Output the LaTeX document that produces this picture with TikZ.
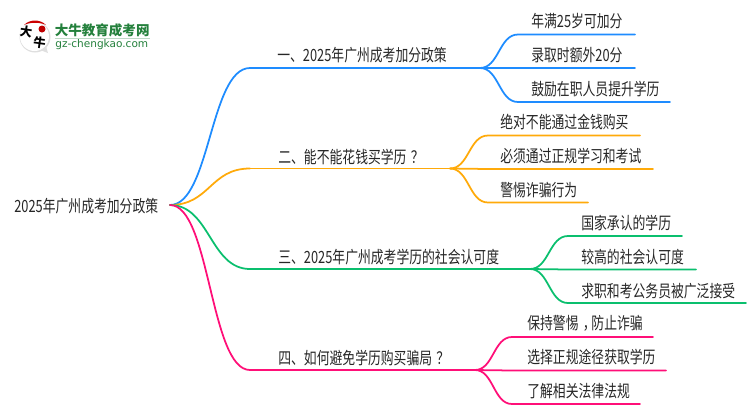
\documentclass[tikz,border=0pt]{standalone}
\usepackage{fontspec}
\usepackage{xcolor}
\setmainfont{Noto Sans CJK SC}[FakeStretch=0.76]
\newfontfamily\logolatin{DejaVu Sans}
\newfontfamily\logocjk{Noto Sans CJK SC}
\definecolor{bluebranch}{HTML}{1E8CFF}
\definecolor{orangebranch}{HTML}{FFAA0A}
\definecolor{greenbranch}{HTML}{0ABF6E}
\definecolor{pinkbranch}{HTML}{FF0F78}
\definecolor{logogreen}{HTML}{24803C}
\newcommand{\midpunct}[1]{\kern2.4pt#1\kern-2.4pt}
\usetikzlibrary{positioning,calc}
\tikzset{
    topic/.style={anchor=west, inner sep=0pt, text=black!85, font=\fontsize{9.6pt}{10pt}\selectfont},
    branch/.style={line width=1pt, line cap=round},
    curve/.style={branch, to path={.. controls ($(\tikztostart)!0.5!(\tikztotarget|-\tikztostart)$) and ($(\tikztotarget)!0.5!(\tikztostart|-\tikztotarget)$) .. (\tikztotarget)}}
}
\begin{document}
\begin{tikzpicture}[x=0.02cm, y=-0.02cm]
    \useasboundingbox (0,0) rectangle (750,410);

    % Logo
    \fill[gray!25] (35,37) circle (15.5);
    \fill[gray!25] (40,50) -- (48,53) -- (46,46) -- cycle;
    \fill[white] (34.5,36.5) circle (14.5);
    \fill[red!80!black] (24,25) .. controls (30,19) and (40,19) .. (46,25) .. controls (40,22) and (30,22) .. (24,25) -- cycle;
    \fill[red!75!black] (42,29) circle (3.5);
    \node[rotate=-8, inner sep=0pt, font=\logocjk\bfseries\fontsize{7pt}{7pt}\selectfont] (logoda) at (26,32) {大};
    \node[rotate=-8, inner sep=0pt, font=\logocjk\bfseries\fontsize{7pt}{7pt}\selectfont] (logoniu) at (39.5,43) {牛};
    \node[anchor=west, inner sep=0pt, text=logogreen, font=\logocjk\bfseries\fontsize{7.7pt}{8pt}\selectfont] (logotitle) at (54.5,30) {大牛教育成考网};
    \node[anchor=west, inner sep=0pt, text=logogreen, font=\logolatin\fontsize{6pt}{6pt}\selectfont] (logosite) at (55,45) {gz-chengkao.com};
    \draw[logogreen!30, line width=0.4pt] (logotitle.south west) ++(0,1) -- ++(95,0);

    % Texts
    \node[topic] (root) at (14,206) {2025年广州成考加分政策};
    \node[topic] (one) at (277,55) {一、2025年广州成考加分政策};
    \node[topic] (two) at (278,157) {二、能不能花钱买学历\midpunct{？}};
    \node[topic] (three) at (278,257) {三、2025年广州成考学历的社会认可度};
    \node[topic] (four) at (278,358) {四、如何避免学历购买骗局\midpunct{？}};

    \node[topic] (oneA) at (531,21) {年满25岁可加分};
    \node[topic] (oneB) at (531,55) {录取时额外20分};
    \node[topic] (oneC) at (531,89) {鼓励在职人员提升学历};
    \node[topic] (twoA) at (500,122) {绝对不能通过金钱购买};
    \node[topic] (twoB) at (500,156) {必须通过正规学习和考试};
    \node[topic] (twoC) at (500,190) {警惕诈骗行为};
    \node[topic] (threeA) at (581,223) {国家承认的学历};
    \node[topic] (threeB) at (581,257) {较高的社会认可度};
    \node[topic] (threeC) at (581,291) {求职和考公务员被广泛接受};
    \node[topic] (fourA) at (527,323) {保持警惕\midpunct{，}防止诈骗};
    \node[topic] (fourB) at (527,357) {选择正规途径获取学历};
    \node[topic] (fourC) at (527,391) {了解相关法律法规};

    % Connector ends
    \coordinate (start) at (170,205);
    \coordinate (oneL) at (250,68);
    \coordinate (oneR) at (480,68);
    \coordinate (twoL) at (250,168.5);
    \coordinate (twoR) at (450,168.5);
    \coordinate (threeL) at (250,269);
    \coordinate (threeR) at (530,269);
    \coordinate (fourL) at (250,370);
    \coordinate (fourR) at (475,370);

    % Blue
    \draw[curve, bluebranch] (start) to (oneL);
    \draw[branch, bluebranch] (oneL) -- (oneR);
    \draw[curve, bluebranch] (oneR) to (518,34.5) -- (635,34.5);
    \draw[curve, bluebranch] (oneR) to (518,68) -- (635,68);
    \draw[curve, bluebranch] (oneR) to (518,102) -- (670,102);

    % Orange
    \draw[curve, orangebranch] (start) to (twoL);
    \draw[branch, orangebranch] (twoL) -- (twoR);
    \draw[curve, orangebranch] (twoR) to (488,135.5) -- (640,135.5);
    \draw[curve, orangebranch] (twoR) to (488,169) -- (653,169);
    \draw[curve, orangebranch] (twoR) to (488,202.5) -- (588,202.5);

    % Green
    \draw[curve, greenbranch] (start) to (threeL);
    \draw[branch, greenbranch] (threeL) -- (threeR);
    \draw[curve, greenbranch] (threeR) to (568,236) -- (682,236);
    \draw[curve, greenbranch] (threeR) to (568,269.5) -- (696,269.5);
    \draw[curve, greenbranch] (threeR) to (568,303) -- (746,303);

    % Pink
    \draw[curve, pinkbranch] (start) to (fourL);
    \draw[branch, pinkbranch] (fourL) -- (fourR);
    \draw[curve, pinkbranch] (fourR) to (512,337) -- (653,337);
    \draw[curve, pinkbranch] (fourR) to (512,370.5) -- (666,370.5);
    \draw[curve, pinkbranch] (fourR) to (512,404) -- (640,404);
\end{tikzpicture}
\end{document}
